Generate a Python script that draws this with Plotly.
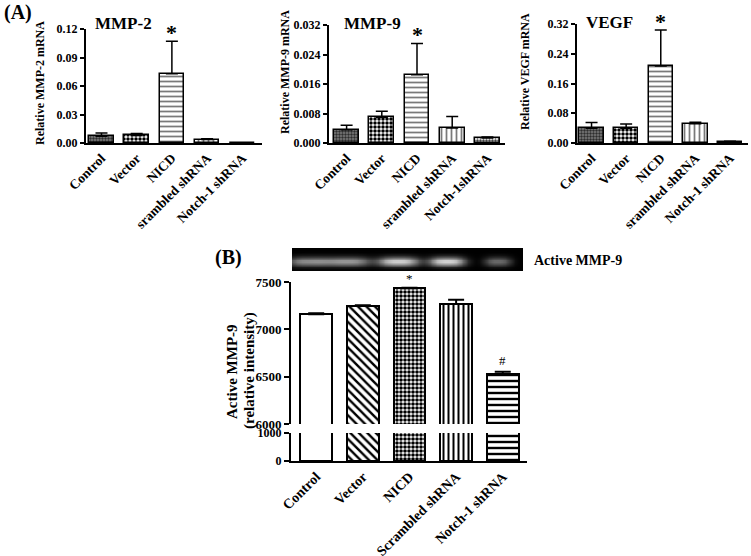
import numpy as np
import plotly.graph_objects as go

W, H = 751, 556
FONT = "Liberation Serif"

# ---------------- data ----------------
cats_mmp2 = ["Control", "Vector", "NICD", "srambled shRNA", "Notch-1 shRNA"]
cats_mmp9 = ["Control", "Vector", "NICD", "srambled shRNA", "Notch-1shRNA"]
cats_vegf = ["Control", "Vector", "NICD", "srambled shRNA", "Notch-1 shRNA"]
cats_b = ["Control", "Vector", "NICD", "Scrambled shRNA", "Notch-1 shRNA"]

mmp2_mean = [0.0072, 0.0080, 0.073, 0.0036, 0.0003]
mmp2_err = [0.0034, 0.0020, 0.034, 0.0010, 0.0000]

mmp9_mean = [0.0036, 0.0070, 0.0185, 0.0041, 0.00135]
mmp9_err = [0.0012, 0.0016, 0.0085, 0.0031, 0.0003]

vegf_mean = [0.040, 0.040, 0.207, 0.052, 0.0036]
vegf_err = [0.015, 0.011, 0.097, 0.004, 0.0008]

b_mean = [7160, 7246, 7433, 7268, 6528]
b_err = [10, 9, 7, 45, 24]

# blot band intensities (relative brightness per lane)
band_intensity = [0.6, 0.65, 0.9, 0.92, 0.45]
band_center = [0.07, 0.24, 0.46, 0.67, 0.89]
band_halfwidth = [0.09, 0.10, 0.09, 0.08, 0.06]

mmp2_ticks = [0.0, 0.03, 0.06, 0.09, 0.12]
mmp9_ticks = [0.0, 0.008, 0.016, 0.024, 0.032]
vegf_ticks = [0.0, 0.08, 0.16, 0.24, 0.32]
b_upper_ticks = [6000, 6500, 7000, 7500]
b_lower_ticks = [0, 1000]


def px(x):
    return x / W


def py(y):
    return 1 - y / H


fig = go.Figure()

# ---------- panel A styles ----------
a_patterns = [
    dict(shape=".", fgcolor="#2e2e2e", bgcolor="#7e7e7e", size=3, solidity=0.5, fgopacity=1),
    dict(shape=".", fgcolor="black", bgcolor="white", size=4, solidity=0.6, fgopacity=1),
    dict(shape="-", fgcolor="#7a7a7a", bgcolor="white", size=5, solidity=0.35, fgopacity=1),
    dict(shape="|", fgcolor="#7a7a7a", bgcolor="white", size=5, solidity=0.35, fgopacity=1),
    dict(shape=".", fgcolor="#444444", bgcolor="white", size=3, solidity=0.5, fgopacity=1),
]


def add_a(cats, mean, err, xa, ya):
    for i in range(len(cats)):
        fig.add_trace(go.Bar(
            x=[cats[i]], y=[mean[i]], width=0.7,
            marker=dict(color="white", line=dict(color="black", width=1.5),
                        pattern=a_patterns[i]),
            error_y=dict(type="data", symmetric=False, array=[err[i]],
                         arrayminus=[0], color="black", thickness=1.5, width=6),
            xaxis=xa, yaxis=ya, showlegend=False, hoverinfo="skip"))


add_a(cats_mmp2, mmp2_mean, mmp2_err, "x", "y")
add_a(cats_mmp9, mmp9_mean, mmp9_err, "x2", "y2")
add_a(cats_vegf, vegf_mean, vegf_err, "x3", "y3")

# ---------- panel B ----------
b_patterns = [
    dict(shape=""),
    dict(shape="\\", fgcolor="black", bgcolor="white", size=6, solidity=0.4, fgopacity=1),
    dict(shape=".", fgcolor="black", bgcolor="white", size=4, solidity=0.65, fgopacity=1),
    dict(shape="|", fgcolor="black", bgcolor="white", size=5, solidity=0.4, fgopacity=1),
    dict(shape="-", fgcolor="black", bgcolor="white", size=6, solidity=0.4, fgopacity=1),
]
for xa, ya, with_err in (("x4", "y4", True), ("x5", "y5", False)):
    for i in range(len(cats_b)):
        tr = go.Bar(
            x=[cats_b[i]], y=[b_mean[i]], width=0.68,
            marker=dict(color="white", line=dict(color="black", width=2),
                        pattern=b_patterns[i]),
            xaxis=xa, yaxis=ya, showlegend=False, hoverinfo="skip")
        if with_err:
            tr.error_y = dict(type="data", symmetric=False, array=[b_err[i]],
                              arrayminus=[0], color="black", thickness=2, width=8)
        fig.add_trace(tr)

# ---------- blot image ----------
gx = np.linspace(0, 1, 90)
gy = np.linspace(0, 1, 14)
Z = np.zeros((len(gy), len(gx)))
for inten, c, hw in zip(band_intensity, band_center, band_halfwidth):
    Z += inten * np.exp(-np.abs((gx[None, :] - c) / hw) ** 3) * \
        np.exp(-((gy[:, None] - 0.42) / 0.2) ** 2)
fig.add_trace(go.Heatmap(
    x=gx, y=gy, z=Z, zmin=0, zmax=1, zsmooth="best", showscale=False,
    colorscale=[[0, "black"], [1, "#ececec"]], xaxis="x6", yaxis="y6",
    hoverinfo="skip"))

axis_common = dict(showline=True, linecolor="black", linewidth=2, automargin=False,
                   ticks="outside", ticklen=4, tickwidth=1.5, tickcolor="black",
                   showgrid=False, zeroline=False,
                   tickfont=dict(family=FONT, size=12, color="black", weight="bold"))
xcat_common = dict(axis_common, type="category", tickangle=-45, ticks="",
                   tickfont=dict(family=FONT, size=13.5, color="black", weight="bold"))

layout = dict(
    width=W, height=H, autosize=False, margin=dict(l=0, r=0, t=0, b=0),
    plot_bgcolor="white", paper_bgcolor="white", barmode="overlay",
    bargap=0,
    xaxis=dict(xcat_common, domain=[px(86), px(262)], range=[-0.44, 4.56], anchor="y"),
    yaxis=dict(axis_common, domain=[py(143), py(29)], range=[0, 0.12],
               tickvals=mmp2_ticks, tickformat=".2f", anchor="x"),
    xaxis2=dict(xcat_common, domain=[px(329), px(505)], range=[-0.5, 4.5], anchor="y2"),
    yaxis2=dict(axis_common, domain=[py(143), py(25)], range=[0, 0.032],
                tickvals=mmp9_ticks, tickformat=".3f", anchor="x2"),
    xaxis3=dict(xcat_common, domain=[px(577), px(748)], range=[-0.42, 4.52], anchor="y3"),
    yaxis3=dict(axis_common, domain=[py(143), py(24)], range=[0, 0.32],
                tickvals=vegf_ticks, tickformat=".2f", anchor="x3"),
    xaxis4=dict(type="category", domain=[px(291), px(527)], range=[-0.54, 4.52],
                showline=False, showticklabels=False, ticks="", showgrid=False,
                zeroline=False, automargin=False, anchor="y4"),
    yaxis4=dict(axis_common, domain=[py(424), py(282)], range=[6000, 7500],
                tickvals=b_upper_ticks, ticklen=5, tickwidth=2,
                tickfont=dict(family=FONT, size=13, color="black", weight="bold"),
                anchor="x4"),
    xaxis5=dict(xcat_common, domain=[px(291), px(527)], range=[-0.54, 4.52],
                tickfont=dict(family=FONT, size=14, color="black", weight="bold"),
                anchor="y5"),
    yaxis5=dict(axis_common, domain=[py(461), py(433)], range=[0, 1000],
                tickvals=b_lower_ticks, ticklen=5, tickwidth=2,
                tickfont=dict(family=FONT, size=12, color="black", weight="bold"),
                anchor="x5"),
    xaxis6=dict(domain=[px(292), px(523)], range=[0, 1], visible=False,
                automargin=False, anchor="y6"),
    yaxis6=dict(domain=[py(271), py(248)], range=[0, 1], visible=False,
                automargin=False, anchor="x6"),
)
fig.update_layout(**layout)


def ann(text, x, y, size, angle=0, xanchor="center", weight="bold"):
    fig.add_annotation(text=text, x=px(x), y=py(y), xref="paper", yref="paper",
                       showarrow=False, textangle=angle, xanchor=xanchor,
                       yanchor="middle",
                       font=dict(family=FONT, size=size, color="black", weight=weight))


ann("(A)", 2, 13, 20, xanchor="left")
ann("(B)", 213, 257, 20, xanchor="left")
ann("MMP-2", 123, 24, 17)
ann("MMP-9", 372, 24, 17)
ann("VEGF", 609, 23, 17)
ann("Relative MMP-2 mRNA", 40, 83, 12, angle=-90)
ann("Relative MMP-9 mRNA", 285, 72, 12, angle=-90)
ann("Relative VEGF mRNA", 525, 72, 12, angle=-90)
ann("Active MMP-9", 232, 371, 15, angle=-90)
ann("(relative intensity)", 249, 371, 15, angle=-90)
ann("Active MMP-9", 532, 260, 14, xanchor="left")

# significance marks
for xa, ya, cats, mean, err in (("x", "y", cats_mmp2, mmp2_mean, mmp2_err),
                                ("x2", "y2", cats_mmp9, mmp9_mean, mmp9_err),
                                ("x3", "y3", cats_vegf, vegf_mean, vegf_err)):
    fig.add_annotation(text="*", x=cats[2], y=mean[2] + err[2], xref=xa, yref=ya,
                       showarrow=False, yanchor="bottom", yshift=-6,
                       font=dict(family=FONT, size=22, color="black", weight="bold"))
fig.add_annotation(text="*", x=cats_b[2], y=b_mean[2] + b_err[2], xref="x4", yref="y4",
                   showarrow=False, yanchor="bottom", yshift=0,
                   font=dict(family=FONT, size=13, color="black"))
fig.add_annotation(text="#", x=cats_b[4], y=b_mean[4] + b_err[4], xref="x4", yref="y4",
                   showarrow=False, yanchor="bottom", yshift=2,
                   font=dict(family=FONT, size=13, color="black"))

fig.write_html("out.html", config={"displayModeBar": False},
               post_script="document.body.style.margin='0';document.body.style.overflow='hidden';")
